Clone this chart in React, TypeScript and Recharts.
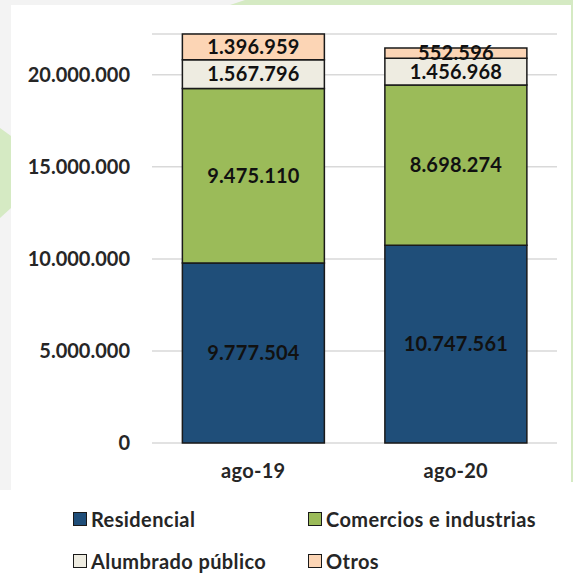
import { BarChart, Bar, XAxis, YAxis, CartesianGrid, LabelList } from "recharts";

const periods = ["ago-19", "ago-20"];
const residencial = [9777504, 10747561];
const comercios = [9475110, 8698274];
const alumbrado = [1567796, 1456968];
const otros = [1396959, 552596];
const yTicks = [0, 5000000, 10000000, 15000000, 20000000];

const series = [
  { key: "residencial", name: "Residencial", color: "#1F4E79" },
  { key: "comercios", name: "Comercios e industrias", color: "#9BBB59" },
  { key: "alumbrado", name: "Alumbrado público", color: "#EEECE1" },
  { key: "otros", name: "Otros", color: "#FCD5B5" },
];

const data = periods.map((p, i) => ({
  period: p,
  residencial: residencial[i],
  comercios: comercios[i],
  alumbrado: alumbrado[i],
  otros: otros[i],
}));

const font = "Lato, 'Open Sans', sans-serif";
const fmt = (v: number) => v.toLocaleString("de-DE");

// legend order on the page: two columns, two rows
const legendPos = [
  { left: 73, top: 507 },
  { left: 308, top: 507 },
  { left: 73, top: 549 },
  { left: 308, top: 549 },
];

export default function App() {
  return (
    <div style={{ position: "absolute", left: 0, top: 0, width: 573, height: 579, background: "#fff", fontFamily: font }}>
      <svg width={573} height={579} style={{ position: "absolute", left: 0, top: 0 }}>
        <rect x={0} y={0} width={573} height={5} fill="#f3f3f3" />
        <rect x={0} y={0} width={11} height={490} fill="#f3f3f3" />
        <polygon points="230,5 245,0 573,0 573,5" fill="#d5eac3" />
        <rect x={571} y={0} width={2} height={482} fill="#d5eac3" />
        <polygon points="0,128 11,136 11,208 0,218" fill="#d5eac3" />
      </svg>
      <div style={{ position: "absolute", left: 0, top: 0 }}>
        <BarChart
          width={573}
          height={579}
          data={data}
          margin={{ top: 34, right: 16, left: 0, bottom: 0 }}
          barCategoryGap="15%"
        >
          <CartesianGrid vertical={false} stroke="#d9d9d9" strokeWidth={1.5} />
          <XAxis
            dataKey="period"
            height={136}
            axisLine={false}
            tickLine={false}
            tickSize={0}
            tickMargin={21}
            tick={{ fill: "#262626", fontSize: 20, fontWeight: 700, fontFamily: font, letterSpacing: 0.3 }}
          />
          <YAxis
            width={152}
            domain={[0, "dataMax"]}
            ticks={yTicks}
            tickFormatter={fmt}
            axisLine={false}
            tickLine={false}
            tickSize={0}
            tickMargin={22}
            tick={{ fill: "#262626", fontSize: 20, fontWeight: 700, fontFamily: font }}
          />
          {series.map((s) => (
            <Bar
              key={s.key}
              dataKey={s.key}
              name={s.name}
              stackId="a"
              fill={s.color}
              stroke="#1a1a1a"
              strokeWidth={1.5}
              isAnimationActive={false}
            >
              <LabelList
                dataKey={s.key}
                position="center"
                formatter={(v: any) => fmt(Number(v))}
                style={{ fill: "#111", fontSize: 20, fontWeight: 700, fontFamily: font, letterSpacing: 0.2 }}
              />
            </Bar>
          ))}
        </BarChart>
      </div>
      {series.map((s, i) => (
        <div
          key={s.key}
          style={{
            position: "absolute",
            left: legendPos[i].left,
            top: legendPos[i].top,
            display: "flex",
            alignItems: "center",
            fontSize: 20,
            fontWeight: 700,
            letterSpacing: 0.4,
            color: "#262626",
            whiteSpace: "nowrap",
          }}
        >
          <span
            style={{
              width: 12,
              height: 12,
              background: s.color,
              border: "1.5px solid #1a1a1a",
              marginRight: 4,
              display: "inline-block",
            }}
          />
          {s.name}
        </div>
      ))}
    </div>
  );
}
